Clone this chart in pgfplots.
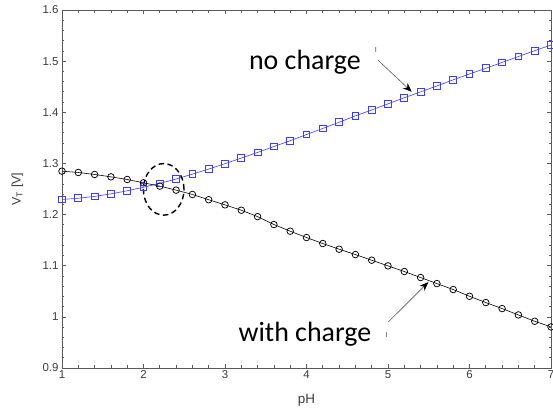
\documentclass[border=0pt]{standalone}
\usepackage{fontspec}
\setmainfont{Liberation Sans}
\newfontfamily\calib{Carlito}
\usepackage{pgfplots}
\pgfplotsset{compat=1.18}
\usetikzlibrary{arrows.meta}
\definecolor{sqblue}{RGB}{60,60,255}
\definecolor{axgray}{RGB}{90,90,90}
\definecolor{lblgray}{RGB}{60,60,60}
\begin{document}
\begin{tikzpicture}
\begin{axis}[
  scale only axis, width=489bp, height=358bp,
  at={(0,0)}, anchor=south west,
  xmin=1, xmax=7, ymin=0.9, ymax=1.6,
  xtick={1,2,...,7}, ytick={0.9,1.0,...,1.6},
  yticklabels={0.9,1,1.1,1.2,1.3,1.4,1.5,1.6},
  minor x tick num=4, minor y tick num=4,
  tick align=inside, major tick length=4bp, minor tick length=2.5bp,
  axis line style={axgray, line width=0.8pt},
  every tick/.style={axgray, line width=0.7pt},
  tick label style={font=\fontsize{11.5}{12}\selectfont, text=lblgray},
  xticklabel style={yshift=1bp},
  /pgf/number format/assume math mode=true,
  xlabel={pH}, ylabel={V\textsubscript{T} [V]},
  xlabel style={font=\fontsize{13.5}{14}\selectfont, text=lblgray, at={(axis description cs:0.5,0)}, anchor=base, yshift=-35bp},
  ylabel style={font=\fontsize{12.5}{13}\selectfont, text=lblgray, at={(axis description cs:-0.091,0.5)}, anchor=center},
  clip=false,
]
\addplot[sqblue, line width=0.6pt, mark=square, mark size=3.4pt, mark options={solid, line width=0.9pt, fill=white}] coordinates {
(1.0,1.2295)(1.2,1.2320)(1.4,1.2355)(1.6,1.2405)(1.8,1.2465)(2.0,1.2535)(2.2,1.2610)(2.4,1.2695)(2.6,1.2790)(2.8,1.2890)(3.0,1.2995)(3.2,1.3105)(3.4,1.3215)(3.6,1.3330)(3.8,1.3445)(4.0,1.3565)(4.2,1.3685)(4.4,1.3805)(4.6,1.3930)(4.8,1.4045)(5.0,1.4165)(5.2,1.4285)(5.4,1.4400)(5.6,1.4515)(5.8,1.4635)(6.0,1.4750)(6.2,1.4860)(6.4,1.4975)(6.6,1.5090)(6.8,1.5205)(7.0,1.5315)};
\addplot[black, line width=0.6pt, mark=o, mark size=3.3pt, mark options={solid, line width=0.75pt, fill=white}] coordinates {
(1.0,1.2849)(1.2,1.2823)(1.4,1.2784)(1.6,1.2738)(1.8,1.2686)(2.0,1.2621)(2.2,1.2556)(2.4,1.2478)(2.6,1.2393)(2.8,1.2290)(3.0,1.2190)(3.2,1.2085)(3.4,1.1960)(3.6,1.1806)(3.8,1.1675)(4.0,1.1551)(4.2,1.1434)(4.4,1.1323)(4.6,1.1218)(4.8,1.1108)(5.0,1.0997)(5.2,1.0886)(5.4,1.0769)(5.6,1.0651)(5.8,1.0534)(6.0,1.0403)(6.2,1.0279)(6.4,1.0162)(6.6,1.0038)(6.8,0.9914)(7.0,0.9803)};
\draw[black, line width=1.4pt, dash pattern=on 5.5bp off 3.5bp] (axis cs:2.248,1.2493) ellipse [x radius=20.3bp, y radius=25.8bp];
\node[font=\calib\fontsize{28}{30}\selectfont, anchor=center] at (axis cs:3.98,1.497) {no charge};
\node[font=\fontsize{7}{7}\selectfont, text=lblgray] at (axis cs:4.85,1.522) {l};
\draw[-{Stealth[length=9bp,width=7bp,black]}, axgray, line width=0.6pt] (axis cs:4.877,1.502) -- (axis cs:5.291,1.440);
\node[font=\calib\fontsize{28}{30}\selectfont, anchor=center] at (axis cs:3.98,0.966) {with charge};
\node[font=\fontsize{7}{7}\selectfont, text=lblgray] at (axis cs:4.98,0.964) {l};
\draw[-{Stealth[length=9bp,width=7bp,black]}, axgray, line width=0.6pt] (axis cs:5.004,0.990) -- (axis cs:5.495,1.068);
\end{axis}
\pgfresetboundingbox
\useasboundingbox (-62bp,-42bp) rectangle (491bp,368bp);
\end{tikzpicture}
\end{document}
